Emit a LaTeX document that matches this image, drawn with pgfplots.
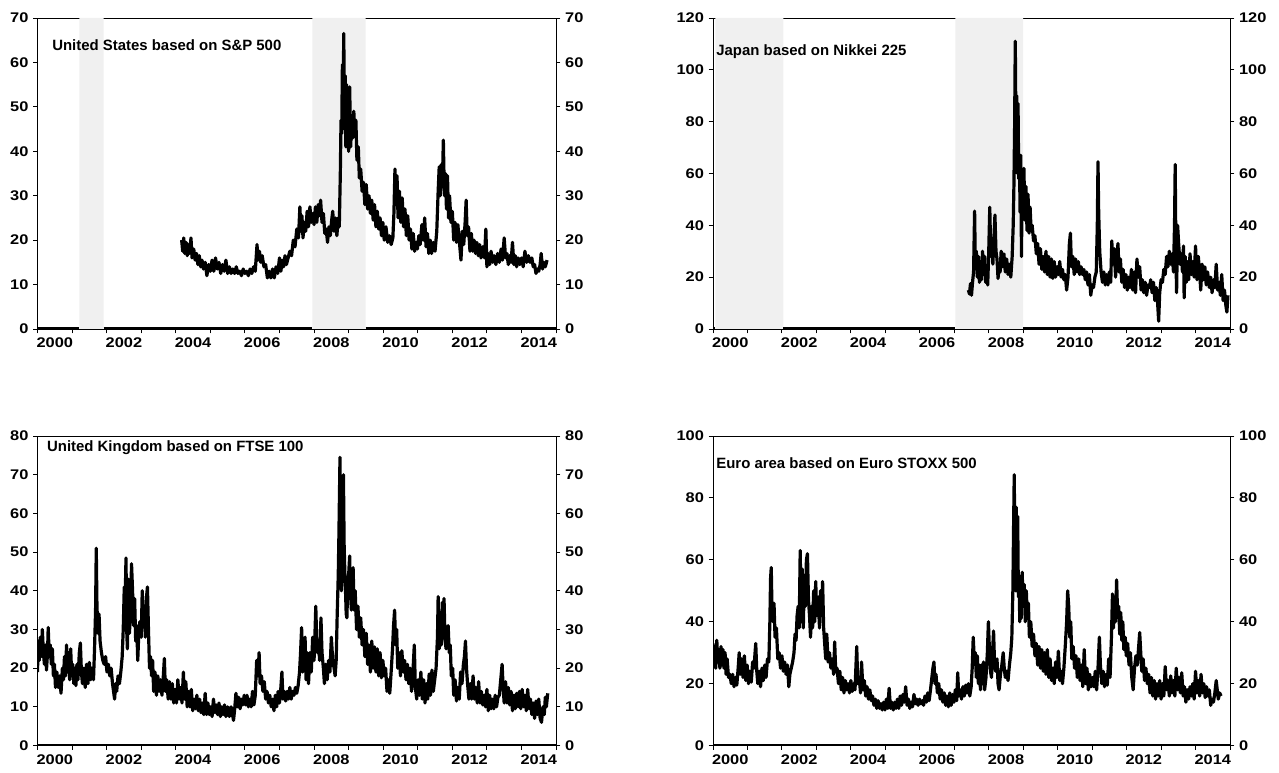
\documentclass[border=0pt]{standalone}
\usepackage{fontspec}
\setmainfont{Liberation Sans}[FakeStretch=1.17]
\newfontfamily\ttlfont{Liberation Sans}
\usepackage{pgfplots}
\pgfplotsset{compat=1.18}
\usepackage{pgfplotstable}

\pgfplotstableread{
x y
2004.17 20
2004.20 17.5
2004.23 20.5
2004.26 17
2004.30 19.5
2004.33 16.5
2004.37 19
2004.40 17
2004.44 20.5
2004.47 16
2004.52 18
2004.56 15.5
2004.60 17
2004.64 14.5
2004.68 16.5
2004.72 14
2004.76 15.5
2004.80 13.5
2004.85 15
2004.90 12
2004.95 14.5
2005.00 13
2005.05 15.5
2005.10 13
2005.15 16
2005.20 13.5
2005.25 15
2005.30 12.5
2005.35 14.5
2005.40 13
2005.45 15.5
2005.50 12.5
2005.55 14
2005.60 12.5
2005.65 13.5
2005.70 12.5
2005.75 14
2005.80 12.5
2005.85 13
2005.90 12
2005.95 13.5
2006.00 12.5
2006.05 13
2006.10 12
2006.15 13.5
2006.20 12.5
2006.25 14
2006.30 13
2006.35 19
2006.38 15.5
2006.42 17.5
2006.46 15
2006.50 16.5
2006.55 14
2006.60 14.5
2006.65 11.5
2006.70 13
2006.75 11.5
2006.80 13.5
2006.85 11.5
2006.90 14
2006.95 12.5
2007.00 16
2007.04 13
2007.08 15.5
2007.12 14
2007.16 16.5
2007.20 14.5
2007.25 16
2007.30 17.5
2007.35 16.5
2007.40 20
2007.45 18.5
2007.50 22.5
2007.55 20.5
2007.59 27.5
2007.62 22
2007.65 25.5
2007.68 20.5
2007.72 24
2007.76 22
2007.80 26.5
2007.84 23
2007.88 27.5
2007.92 24
2007.96 26
2008.00 23.5
2008.04 27.5
2008.08 24
2008.12 28
2008.16 25.5
2008.19 29
2008.23 24
2008.27 26
2008.31 21.5
2008.35 22.5
2008.39 19.5
2008.43 23
2008.47 21
2008.51 24.5
2008.54 26.5
2008.58 22
2008.62 25
2008.66 21
2008.70 25
2008.73 23
2008.76 35
2008.78 47
2008.80 44
2008.82 59.5
2008.84 52
2008.86 66.5
2008.88 45
2008.90 57
2008.92 41
2008.94 55
2008.96 42
2008.98 49
2009.00 40
2009.03 54.5
2009.06 41
2009.09 48
2009.12 43
2009.15 49
2009.18 44
2009.21 47
2009.24 38
2009.28 41
2009.31 34
2009.35 36
2009.39 31
2009.43 33
2009.47 28
2009.51 32.5
2009.55 27
2009.59 30
2009.63 26
2009.67 29
2009.71 24.5
2009.75 28
2009.79 23
2009.83 26.5
2009.87 22.5
2009.91 25
2009.95 21
2009.99 24
2010.03 20
2010.08 23
2010.13 19.5
2010.18 21
2010.23 19
2010.28 20.5
2010.31 26
2010.34 36
2010.37 28
2010.40 34.5
2010.43 25
2010.47 31
2010.51 24
2010.55 29.5
2010.59 23
2010.63 27
2010.67 21
2010.71 25.5
2010.75 20
2010.79 22.5
2010.83 18
2010.87 21.5
2010.91 17.5
2010.95 19.5
2010.99 18
2011.03 21
2011.07 19
2011.12 23.5
2011.16 20
2011.20 25
2011.24 18.5
2011.28 21.5
2011.32 17
2011.36 20
2011.40 17
2011.45 19.5
2011.50 17.5
2011.55 22
2011.59 31
2011.62 36.5
2011.65 30
2011.68 37
2011.71 32
2011.74 42.5
2011.77 30
2011.80 35
2011.83 27
2011.86 34.5
2011.89 25
2011.92 30
2011.96 24
2012.00 26.5
2012.04 20
2012.08 24
2012.12 19.5
2012.16 23.5
2012.20 20
2012.25 15.5
2012.29 22
2012.33 19
2012.37 24
2012.40 29
2012.43 21
2012.47 23
2012.51 17.5
2012.55 21.5
2012.59 17.5
2012.63 20
2012.67 17
2012.71 19.5
2012.75 16.5
2012.79 19
2012.83 16
2012.88 18.5
2012.93 16
2012.97 22.5
2013.00 14
2013.04 17
2013.08 14.5
2013.12 17.5
2013.17 15
2013.21 16.5
2013.26 14.5
2013.31 17
2013.36 15
2013.41 18
2013.45 15.5
2013.50 20.5
2013.54 16
2013.58 17
2013.62 14.5
2013.66 16.5
2013.70 15
2013.74 19.5
2013.78 14.5
2013.82 16.5
2013.86 14
2013.90 16
2013.95 14.5
2014.00 16
2014.05 14
2014.10 17.5
2014.15 15
2014.20 16.5
2014.25 15
2014.30 16
2014.34 14
2014.38 14.5
2014.42 12.5
2014.46 13.5
2014.50 13
2014.54 14.5
2014.57 17
2014.61 13.5
2014.65 15
2014.69 14
2014.74 15.5
}\UStab

\pgfplotstableread{
x y
2007.41 15
2007.44 13.5
2007.47 17.5
2007.50 13
2007.53 18
2007.56 22
2007.59 45.5
2007.61 26
2007.64 30
2007.67 20
2007.70 28
2007.73 18
2007.76 26
2007.79 19
2007.82 30
2007.85 21
2007.88 28
2007.91 18
2007.94 24
2007.97 17
2008.00 30
2008.03 47
2008.06 28
2008.09 35
2008.12 25
2008.15 35
2008.18 44
2008.21 30
2008.24 27
2008.27 19.5
2008.30 24
2008.33 22
2008.36 30
2008.40 24
2008.44 29
2008.48 22
2008.52 27
2008.56 21
2008.60 25
2008.64 20
2008.68 28
2008.71 40
2008.73 55
2008.75 77
2008.77 111
2008.79 75
2008.81 90
2008.83 60
2008.85 87
2008.87 58
2008.89 66
2008.91 45
2008.93 67
2008.95 28
2008.97 60
2008.99 45
2009.02 62
2009.05 42
2009.08 55
2009.11 38
2009.14 52
2009.17 37
2009.20 47
2009.23 38
2009.26 40
2009.30 34
2009.34 36
2009.38 29
2009.42 33
2009.46 25
2009.50 31
2009.54 23
2009.58 28
2009.62 22
2009.66 30
2009.70 21
2009.74 28
2009.78 20
2009.82 27
2009.86 19.5
2009.90 26
2009.94 20
2009.98 24
2010.02 21
2010.06 26
2010.10 20
2010.14 23
2010.18 19
2010.22 21
2010.26 15
2010.30 20
2010.34 33
2010.37 37
2010.40 24
2010.44 28
2010.48 21
2010.52 27
2010.56 22
2010.60 26
2010.64 21
2010.68 24
2010.72 21
2010.76 23
2010.80 19
2010.84 22
2010.88 17
2010.92 21
2010.96 13
2011.00 17
2011.04 16
2011.08 20
2011.12 22
2011.15 40
2011.17 64.5
2011.19 45
2011.22 30
2011.26 22
2011.30 18
2011.34 22
2011.38 17
2011.42 21
2011.46 17
2011.50 22
2011.54 18
2011.57 34
2011.60 25
2011.64 31
2011.68 20
2011.72 29
2011.75 33
2011.78 22
2011.82 27
2011.86 18
2011.90 23
2011.94 16
2011.98 21
2012.02 15
2012.06 20
2012.10 16
2012.14 23
2012.18 15
2012.22 22
2012.26 14
2012.30 27
2012.34 20
2012.38 24
2012.42 15
2012.46 19
2012.50 14
2012.54 18
2012.58 13
2012.62 17
2012.66 16
2012.70 19
2012.74 14
2012.78 18
2012.82 11
2012.86 16
2012.90 10
2012.93 3
2012.96 14
2013.00 19
2013.04 18
2013.08 23
2013.12 21
2013.16 28
2013.20 24
2013.24 30
2013.28 25
2013.32 29
2013.36 22
2013.39 40
2013.41 63.5
2013.43 30
2013.45 14
2013.48 40
2013.51 33
2013.55 25
2013.59 29
2013.62 22
2013.65 32
2013.67 12
2013.70 28
2013.73 18
2013.77 26
2013.80 19
2013.84 29
2013.88 21
2013.92 26
2013.96 20
2014.00 32
2014.04 19
2014.08 28
2014.12 22
2014.15 15
2014.19 25
2014.23 19
2014.27 24
2014.31 17
2014.35 22
2014.40 16
2014.44 20
2014.48 14
2014.52 19
2014.56 16
2014.60 25
2014.64 15
2014.68 18
2014.72 13
2014.76 21
2014.80 11
2014.84 15
2014.88 9
2014.91 6.5
2014.94 13
}\JPtab

\pgfplotstableread{
x y
2000.00 19
2000.02 27
2000.05 22
2000.08 28
2000.11 23
2000.14 30
2000.17 24
2000.20 21
2000.23 26
2000.26 19.5
2000.29 24
2000.31 30.5
2000.34 23
2000.37 26
2000.40 21
2000.43 25
2000.46 18
2000.49 21
2000.52 15
2000.56 19
2000.60 15
2000.64 18
2000.68 13.5
2000.72 20
2000.75 17
2000.78 23
2000.81 18
2000.84 26
2000.87 19
2000.90 24
2000.93 17
2000.96 25
2000.99 18
2001.02 21
2001.05 16
2001.08 20
2001.11 15.5
2001.14 21
2001.17 17
2001.21 24
2001.24 26.5
2001.27 19
2001.30 16
2001.34 20
2001.38 15
2001.42 21
2001.46 16
2001.50 21.5
2001.54 17
2001.58 20
2001.62 17
2001.65 25
2001.68 35
2001.70 51
2001.72 36
2001.75 29
2001.78 34
2001.81 27
2001.85 24
2001.89 22
2001.93 21
2001.97 23
2002.01 19
2002.05 21
2002.09 18
2002.13 20
2002.17 16
2002.20 14
2002.23 12
2002.26 16
2002.29 14
2002.33 18
2002.37 16
2002.41 19
2002.45 23
2002.48 30
2002.51 41
2002.53 35
2002.56 48.5
2002.58 30
2002.60 25
2002.63 43
2002.66 29
2002.69 35
2002.72 47
2002.75 40
2002.78 31
2002.81 38
2002.84 27
2002.87 31
2002.90 22
2002.93 29
2002.96 32
2003.00 28
2003.03 40
2003.06 31
2003.09 34
2003.12 28
2003.15 38
2003.18 41
2003.21 30
2003.24 20
2003.27 23
2003.30 18
2003.33 22
2003.36 14
2003.40 19
2003.44 13
2003.48 18
2003.52 14
2003.56 17
2003.60 13
2003.64 18
2003.67 22.5
2003.70 14
2003.74 17
2003.78 12
2003.82 16.5
2003.86 12
2003.90 16
2003.94 11
2003.98 14.5
2004.02 11
2004.06 17
2004.10 12
2004.14 15
2004.18 11
2004.22 19
2004.25 12
2004.29 16.5
2004.33 10
2004.37 14
2004.41 10
2004.45 14.5
2004.49 9
2004.53 12
2004.57 9.5
2004.61 13
2004.65 9
2004.69 12
2004.73 8.5
2004.77 11
2004.81 8
2004.85 13.5
2004.89 8
2004.93 11
2004.97 8
2005.01 10
2005.05 7.5
2005.09 12
2005.13 8.5
2005.17 10.5
2005.21 8
2005.25 11
2005.29 7.5
2005.33 10
2005.37 8
2005.41 10.5
2005.45 7.5
2005.50 10
2005.55 7.5
2005.60 10
2005.64 8
2005.67 6.5
2005.70 9
2005.74 13.5
2005.78 10
2005.82 12.5
2005.86 9.5
2005.90 12
2005.94 10.5
2005.98 13
2006.02 10.5
2006.06 13
2006.10 10
2006.14 12
2006.18 10
2006.22 14
2006.26 10.5
2006.30 13
2006.34 22
2006.38 18
2006.41 24
2006.44 16
2006.48 18
2006.52 14
2006.56 16.5
2006.60 12
2006.64 14
2006.68 11
2006.72 13
2006.76 10
2006.80 12
2006.84 9
2006.88 13
2006.92 10
2006.96 14
2007.00 11
2007.04 15
2007.07 19
2007.10 12
2007.14 14
2007.18 11.5
2007.22 14
2007.26 12
2007.30 15
2007.34 12
2007.38 14
2007.42 13
2007.46 15
2007.50 13.5
2007.54 15.5
2007.58 19
2007.61 24
2007.64 30.5
2007.67 19
2007.70 26
2007.74 28
2007.77 17
2007.80 24
2007.84 16
2007.88 24
2007.92 19
2007.96 28
2008.00 22
2008.03 30
2008.05 36
2008.08 26
2008.10 24
2008.13 27
2008.16 22
2008.20 33
2008.23 24
2008.27 20
2008.30 16
2008.34 21
2008.38 17
2008.42 22
2008.46 19
2008.50 28
2008.54 22
2008.58 20
2008.61 18
2008.64 22
2008.67 34
2008.70 44
2008.72 55
2008.75 74.5
2008.77 55
2008.79 40
2008.81 45
2008.83 60
2008.85 70
2008.87 52
2008.89 45
2008.91 40
2008.93 34
2008.95 33
2008.97 40
2009.00 44
2009.03 49
2009.05 40
2009.08 35
2009.10 38
2009.13 46
2009.16 35
2009.19 40
2009.23 30
2009.27 36
2009.31 28
2009.35 33
2009.39 26
2009.43 30
2009.47 23
2009.51 29
2009.55 21
2009.59 26
2009.63 19
2009.67 27
2009.71 20
2009.75 25.5
2009.79 19
2009.83 25
2009.87 18
2009.91 24
2009.95 17.5
2009.99 22
2010.03 18
2010.07 20
2010.11 14
2010.15 17
2010.19 13.5
2010.23 19
2010.27 25
2010.30 31
2010.33 35
2010.36 26
2010.39 30
2010.42 20
2010.46 24
2010.50 18
2010.54 24.5
2010.58 19
2010.62 22
2010.66 17
2010.70 21
2010.74 16
2010.78 20
2010.82 14
2010.86 19
2010.90 26
2010.93 15
2010.97 12
2011.01 17
2011.05 13
2011.09 19
2011.13 12
2011.17 17
2011.21 11
2011.25 16
2011.29 12
2011.33 18.5
2011.37 13
2011.41 19.5
2011.45 14
2011.49 17
2011.53 20
2011.57 28
2011.59 38.5
2011.62 25
2011.65 33
2011.68 26
2011.71 37
2011.74 30
2011.76 38
2011.79 27
2011.82 25
2011.86 29
2011.88 31
2011.91 24
2011.94 26
2011.97 18
2012.01 20
2012.04 13
2012.08 17
2012.12 11.5
2012.16 15
2012.20 12
2012.24 19
2012.28 16
2012.32 21
2012.35 23
2012.38 27
2012.41 20
2012.44 16
2012.48 12
2012.52 16
2012.56 12
2012.60 18
2012.64 12
2012.68 15
2012.72 11
2012.76 16.5
2012.80 11
2012.84 14
2012.88 10.5
2012.92 13
2012.96 10
2013.00 14.5
2013.04 9
2013.08 13
2013.12 9.5
2013.16 12
2013.20 9.5
2013.24 13
2013.28 10
2013.32 12.5
2013.36 13
2013.40 17
2013.44 21
2013.47 15
2013.50 11
2013.54 16.5
2013.58 11
2013.62 15
2013.66 10.5
2013.70 14
2013.74 9
2013.78 13
2013.82 9.5
2013.86 13.5
2013.90 10
2013.94 14
2013.98 9.5
2014.02 14.5
2014.06 10
2014.10 13
2014.14 9
2014.18 14.5
2014.22 9.5
2014.26 12
2014.30 8
2014.34 11
2014.38 7
2014.42 11.5
2014.46 8
2014.50 12
2014.54 7
2014.58 6
2014.62 10
2014.66 8
2014.69 12.5
2014.72 10
2014.76 13.5
}\UKtab

\pgfplotstableread{
x y
2000.00 33
2000.02 26
2000.05 32
2000.08 25
2000.11 34
2000.14 27
2000.17 30
2000.20 25
2000.23 32
2000.26 26
2000.29 31
2000.32 25
2000.35 30
2000.38 23
2000.41 28
2000.45 22
2000.49 23
2000.53 20
2000.57 23
2000.61 19
2000.65 22
2000.69 19.5
2000.73 25
2000.76 30
2000.79 23
2000.83 28
2000.87 22
2000.91 29
2000.95 21
2000.99 26
2001.03 20
2001.07 24
2001.11 20.5
2001.15 27
2001.19 25
2001.22 30
2001.24 33
2001.27 24
2001.30 20
2001.34 24
2001.38 19
2001.42 25
2001.46 21
2001.50 26
2001.54 22
2001.58 28
2001.62 27
2001.65 40
2001.67 54
2001.69 57.5
2001.71 45
2001.74 40
2001.77 46
2001.80 35
2001.84 38
2001.88 28
2001.92 30
2001.96 25
2002.00 29
2002.04 24
2002.08 27
2002.12 23
2002.16 26
2002.20 19
2002.23 23
2002.27 25
2002.31 27
2002.35 30
2002.38 36
2002.41 34
2002.44 42
2002.47 45
2002.50 38
2002.53 63
2002.56 40
2002.59 57
2002.62 38
2002.65 55
2002.68 45
2002.71 60
2002.74 62
2002.77 47
2002.80 42
2002.83 35
2002.86 45
2002.89 38
2002.92 50
2002.95 40
2002.98 53
2003.01 42
2003.05 48
2003.09 38
2003.12 50
2003.15 42
2003.18 53
2003.21 38
2003.24 33
2003.27 28
2003.30 36
2003.34 27
2003.38 30
2003.42 25
2003.46 28
2003.50 23
2003.53 33.5
2003.56 24
2003.60 25
2003.64 20
2003.68 24
2003.72 18
2003.76 22
2003.80 17
2003.84 21
2003.88 18
2003.92 20
2003.96 17
2004.00 21
2004.04 17.5
2004.08 20
2004.12 18
2004.17 32
2004.20 20
2004.24 22
2004.28 17
2004.31 27
2004.35 18
2004.39 21
2004.43 16
2004.47 19
2004.51 15
2004.55 18
2004.59 14.5
2004.63 16
2004.67 13
2004.71 15
2004.75 12
2004.79 14.5
2004.83 12
2004.87 13.5
2004.91 11.5
2004.95 14
2004.99 11.5
2005.03 15
2005.07 12
2005.11 18.5
2005.15 12
2005.19 14
2005.23 11.5
2005.27 14
2005.31 12
2005.35 15
2005.39 12
2005.43 16
2005.47 13
2005.51 16.5
2005.55 14
2005.59 19
2005.63 13
2005.67 15
2005.71 12
2005.75 14
2005.79 12.5
2005.83 16.5
2005.87 13.5
2005.91 15
2005.95 13
2005.99 15
2006.03 13.5
2006.07 14.5
2006.11 13
2006.15 16
2006.19 14
2006.23 17
2006.27 14.5
2006.31 18
2006.35 22
2006.38 25
2006.41 27
2006.44 20
2006.47 23
2006.51 17
2006.55 20
2006.59 15
2006.63 18
2006.67 14
2006.71 17
2006.75 13
2006.79 16
2006.83 12.5
2006.87 17
2006.91 13
2006.95 16.5
2006.99 14
2007.03 18
2007.07 14.5
2007.10 23.5
2007.13 16
2007.17 18
2007.21 15
2007.25 19
2007.29 16
2007.33 19.5
2007.37 17
2007.41 20
2007.45 16
2007.49 19
2007.52 25
2007.55 35
2007.58 28
2007.61 30
2007.64 22
2007.67 29
2007.70 20
2007.73 26
2007.76 18
2007.79 26
2007.82 20
2007.85 27
2007.88 18
2007.92 22
2007.96 30
2007.99 40
2008.02 31
2008.05 24
2008.08 22
2008.11 30
2008.14 37
2008.17 26
2008.20 24
2008.24 28
2008.27 20
2008.30 18
2008.34 23
2008.38 26
2008.42 30
2008.45 25
2008.48 22
2008.52 24
2008.56 21
2008.60 26
2008.64 30
2008.67 35
2008.70 50
2008.72 70
2008.74 87.5
2008.76 60
2008.78 50
2008.80 77
2008.82 55
2008.84 74
2008.86 48
2008.88 55
2008.90 40
2008.92 48
2008.94 41
2008.97 56
2009.00 45
2009.03 52
2009.06 40
2009.09 50
2009.12 41
2009.15 46
2009.18 35
2009.22 40
2009.26 32
2009.30 36
2009.34 29
2009.38 33
2009.42 26
2009.46 32
2009.50 25
2009.54 31
2009.58 24
2009.62 30
2009.66 23
2009.70 31
2009.74 22
2009.78 28
2009.82 21
2009.86 25
2009.90 20
2009.94 27
2009.98 22
2010.02 30.5
2010.06 21
2010.10 24
2010.14 20
2010.18 25
2010.22 32
2010.26 40
2010.29 50
2010.32 45
2010.35 35
2010.38 40
2010.41 28
2010.45 32
2010.49 25
2010.53 29
2010.57 22
2010.61 28
2010.65 21
2010.69 26
2010.73 19
2010.77 31
2010.81 20
2010.85 25
2010.89 18
2010.93 23
2010.97 19
2011.01 22
2011.05 19
2011.09 24
2011.13 18
2011.17 25
2011.21 35
2011.24 26
2011.28 20
2011.32 24
2011.36 19
2011.40 23
2011.44 19.5
2011.48 28
2011.52 22
2011.56 35
2011.59 49
2011.62 38
2011.65 48
2011.68 40
2011.71 53.5
2011.74 42
2011.77 45
2011.80 36
2011.83 43
2011.86 34
2011.89 40
2011.92 31
2011.96 35
2011.99 29
2012.03 33
2012.07 26
2012.11 30
2012.15 22
2012.19 18
2012.23 25
2012.27 29
2012.31 26
2012.35 32
2012.38 36.5
2012.41 30
2012.44 24
2012.48 28
2012.52 21
2012.56 25
2012.60 20
2012.64 23
2012.68 17
2012.72 22
2012.76 16
2012.80 21
2012.84 15
2012.88 20
2012.92 16
2012.96 21
2013.00 15
2013.04 20
2013.08 16
2013.12 25.5
2013.16 18
2013.20 21
2013.24 16
2013.28 22.5
2013.32 17
2013.36 21
2013.40 16
2013.44 25
2013.48 18
2013.52 22
2013.56 17
2013.60 23.5
2013.64 16
2013.68 19
2013.72 14
2013.76 18
2013.80 15
2013.84 19
2013.88 16
2013.92 20
2013.96 15
2014.00 24
2014.04 17
2014.08 21
2014.12 16
2014.16 23
2014.20 17
2014.24 20
2014.28 15.5
2014.32 19
2014.36 16
2014.40 18
2014.44 13
2014.48 15
2014.52 14
2014.56 17
2014.60 21
2014.63 18
2014.66 15
2014.70 17
2014.74 16
}\EUtab

\pgfplotsset{
  panel/.style={scale only axis, xmin=2000, xmax=2015, ymin=0,
    axis line style={line width=0.7pt}, tick style={line width=0.7pt, black},
    tick align=outside, major tick length=3.3pt,
    ticklabel style={font=\fontsize{10.5}{12}\selectfont\bfseries},
    /pgf/number format/assume math mode=true, /pgf/number format/1000 sep={}},
  mainax/.style={panel, xtick={2000,2001,...,2015},
    xticklabels={2000,,2002,,2004,,2006,,2008,,2010,,2012,,2014},
    x tick label as interval, xtick pos=bottom, ytick pos=left},
  rightax/.style={panel, axis y line*=right, axis x line=none, ytick pos=right, yticklabel pos=right},
  series/.style={black, line width=2.4pt, line join=round, no marks},
  zero/.style={black, line width=2.6pt, no marks},
  shade/.style={fill=black!6, draw=none, no marks},
}
\tikzset{ttl/.style={anchor=west, inner sep=0pt, font=\ttlfont\fontsize{11.2}{13}\selectfont\bfseries}}

\begin{document}
\begin{tikzpicture}
\path[use as bounding box] (0,0) rectangle (959.25pt,579.75pt);

% ---------- United States ----------
\begin{axis}[mainax, at={(28.125pt,333pt)}, anchor=south west, width=388.9pt, height=233.25pt,
  ymax=70, ytick={0,10,...,70}]
\addplot[shade] coordinates {(2001.21,0)(2001.21,70)(2001.91,70)(2001.91,0)} \closedcycle;
\addplot[shade] coordinates {(2007.95,0)(2007.95,70)(2009.49,70)(2009.49,0)} \closedcycle;
\addplot[zero] coordinates {(2000,0)(2001.21,0)};
\addplot[zero] coordinates {(2001.91,0)(2007.95,0)};
\addplot[zero] coordinates {(2009.49,0)(2015,0)};
\addplot[series] table {\UStab};
\node[ttl] at (rel axis cs:0.028,0.913) {United States based on S\&P 500};
\end{axis}
\begin{axis}[rightax, at={(28.125pt,333pt)}, anchor=south west, width=388.9pt, height=233.25pt,
  ymax=70, ytick={0,10,...,70}]
\end{axis}

% ---------- Japan ----------
\begin{axis}[mainax, at={(534.75pt,333pt)}, anchor=south west, width=387.75pt, height=233.25pt,
  ymax=120, ytick={0,20,...,120}]
\addplot[shade] coordinates {(2000.07,0)(2000.07,120)(2002.04,120)(2002.04,0)} \closedcycle;
\addplot[shade] coordinates {(2007.03,0)(2007.03,120)(2009.0,120)(2009.0,0)} \closedcycle;
\addplot[zero] coordinates {(2000,0)(2000.07,0)};
\addplot[zero] coordinates {(2002.04,0)(2007.03,0)};
\addplot[zero] coordinates {(2009.0,0)(2015,0)};
\addplot[series] table {\JPtab};
\node[ttl] at (rel axis cs:0.006,0.891) {Japan based on Nikkei 225};
\end{axis}
\begin{axis}[rightax, at={(534.75pt,333pt)}, anchor=south west, width=387.75pt, height=233.25pt,
  ymax=120, ytick={0,20,...,120}]
\end{axis}

% ---------- United Kingdom ----------
\begin{axis}[mainax, at={(28.125pt,20.6pt)}, anchor=south west, width=388.9pt, height=232.1pt,
  ymax=80, ytick={0,10,...,80}]
\addplot[zero] coordinates {(2000,0)(2015,0)};
\addplot[series] table {\UKtab};
\node[ttl] at (rel axis cs:0.018,0.964) {United Kingdom based on FTSE 100};
\end{axis}
\begin{axis}[rightax, at={(28.125pt,20.6pt)}, anchor=south west, width=388.9pt, height=232.1pt,
  ymax=80, ytick={0,10,...,80}]
\end{axis}

% ---------- Euro area ----------
\begin{axis}[mainax, at={(534.75pt,20.6pt)}, anchor=south west, width=387.75pt, height=232.1pt,
  ymax=100, ytick={0,20,...,100}]
\addplot[zero] coordinates {(2000,0)(2015,0)};
\addplot[series] table {\EUtab};
\node[ttl] at (rel axis cs:0.006,0.913) {Euro area based on Euro STOXX 500};
\end{axis}
\begin{axis}[rightax, at={(534.75pt,20.6pt)}, anchor=south west, width=387.75pt, height=232.1pt,
  ymax=100, ytick={0,20,...,100}]
\end{axis}
\end{tikzpicture}
\end{document}
